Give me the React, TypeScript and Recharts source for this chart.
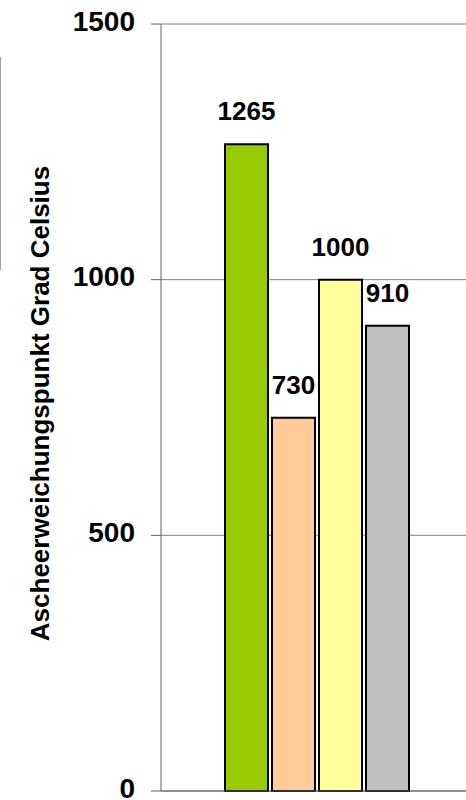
import React from "react";
import {
  BarChart, Bar, XAxis, YAxis, CartesianGrid, LabelList, Label,
} from "recharts";

const categories = ["Asche"];
const seriesNames = ["s1", "s2", "s3", "s4"];
const seriesValues = [1265, 730, 1000, 910];
const seriesColors = ["#99CC00", "#FFCC99", "#FFFF99", "#C0C0C0"];
const yTicks = [0, 500, 1000, 1500];
const yTitle = "Ascheerweichungspunkt Grad Celsius";

const data = categories.map((c) => {
  const row: Record<string, string | number> = { name: c };
  seriesNames.forEach((s, i) => (row[s] = seriesValues[i]));
  return row;
});

const FONT = "'Liberation Sans', Arial, sans-serif";

function YTitle({ viewBox }: any) {
  const cx = viewBox.x + 40;
  const cy = viewBox.y + viewBox.height / 2 - 4;
  return (
    <text
      x={cx}
      y={cy}
      transform={`rotate(-90 ${cx} ${cy})`}
      textAnchor="middle"
      dominantBaseline="central"
      fontFamily={FONT}
      fontWeight="bold"
      fontSize={26}
      fill="#000"
    >
      {yTitle}
    </text>
  );
}

function YTick({ x, y, payload }: any) {
  return (
    <text
      x={x}
      y={y - 3}
      textAnchor="end"
      dominantBaseline="central"
      fontFamily={FONT}
      fontWeight="bold"
      fontSize={28}
      fill="#000"
    >
      {payload.value}
    </text>
  );
}

export default function App() {
  return (
    <div style={{ position: "absolute", left: 0, top: 0, width: 466, height: 800, background: "#fff" }}>
      {/* left edge of the cut-off legend box */}
      <div style={{ position: "absolute", left: 0, top: 57, width: 1, height: 213, background: "#a0a0a0" }} />
      <BarChart
        width={466}
        height={800}
        data={data}
        margin={{ top: 24, right: 0, left: 0, bottom: 4 }}
        barSize={43}
        barGap={4}
      >
        <CartesianGrid vertical={false} stroke="#808080" strokeWidth={1} />
        <XAxis
          dataKey="name"
          tick={false}
          height={5}
          stroke="#606060"
          tickLine={false}
          padding={{ left: 7, right: 0 }}
        />
        <YAxis
          width={161}
          domain={[0, 1500]}
          ticks={yTicks}
          interval={0}
          stroke="#606060"
          tickSize={10}
          tickMargin={16}
          tick={<YTick />}
        >
          <Label content={<YTitle />} />
        </YAxis>
        {seriesNames.map((s, i) => (
          <Bar
            key={s}
            dataKey={s}
            fill={seriesColors[i]}
            stroke="#000"
            strokeWidth={2}
            isAnimationActive={false}
          >
            <LabelList
              dataKey={s}
              position="top"
              offset={24}
              style={{ fontSize: 26, fontWeight: "bold", fill: "#000", fontFamily: FONT }}
            />
          </Bar>
        ))}
      </BarChart>
    </div>
  );
}
